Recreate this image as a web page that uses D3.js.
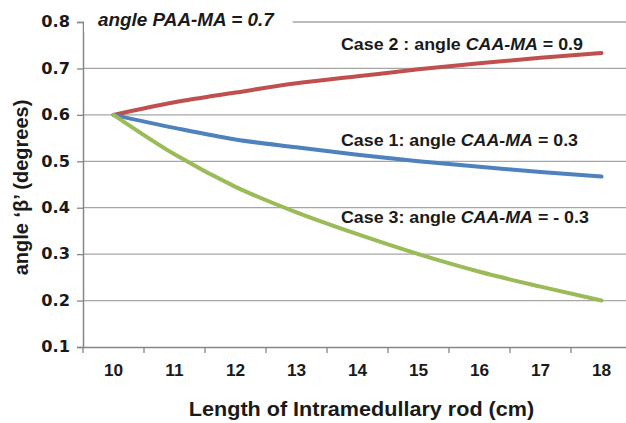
<!DOCTYPE html>
<html>
<head>
<meta charset="utf-8">
<script src="https://cdn.jsdelivr.net/npm/d3@7"></script>
<style>
  body { margin: 0; background: #fff; }
  svg { display: block; font-family: "Liberation Sans", Arial, sans-serif; }
</style>
</head>
<body>
<svg id="chart" width="626" height="423"></svg>
<script>
// Data
const lengths = ["10", "11", "12", "13", "14", "15", "16", "17", "18"];
const case1 = [0.600, 0.572, 0.547, 0.530, 0.514, 0.500, 0.488, 0.477, 0.467];
const case2 = [0.600, 0.627, 0.648, 0.668, 0.683, 0.698, 0.711, 0.723, 0.733];
const case3 = [0.600, 0.515, 0.445, 0.390, 0.343, 0.300, 0.262, 0.230, 0.200];
const yTicks = [0.1, 0.2, 0.3, 0.4, 0.5, 0.6, 0.7, 0.8];

const series = [
  { name: "case2", values: case2, color: "#C0504D" },
  { name: "case1", values: case1, color: "#4F81BD" },
  { name: "case3", values: case3, color: "#9BBB59" }
];

const svg = d3.select("#chart");
const mLeft = 83, mRight = 632, mTop = 22, mBottom = 347;
const wide = 1.08; // the original picture is a bit stretched sideways

// widen text horizontally while keeping its anchor point
function stretch(sel) {
  sel.each(function() {
    const t = d3.select(this);
    const xv = +t.attr("x") || 0;
    t.attr("x", xv / wide).attr("transform", `scale(${wide},1)`);
  });
}

const x = d3.scaleBand().domain(lengths).range([mLeft, mRight]);
const y = d3.scaleLinear().domain([0.1, 0.8]).range([mBottom, mTop]);

// gridlines
svg.append("g")
  .selectAll("line")
  .data(yTicks.filter(d => d > 0.1))
  .join("line")
  .attr("x1", mLeft).attr("x2", mRight)
  .attr("y1", d => y(d)).attr("y2", d => y(d))
  .attr("stroke", "#A6A6A6").attr("stroke-width", 1.3);

// y axis
const yAxis = svg.append("g")
  .attr("transform", `translate(${mLeft},0)`)
  .call(d3.axisLeft(y).tickValues(yTicks).tickFormat(d3.format(".1f")).tickSize(6).tickPadding(7));
yAxis.select(".domain").attr("stroke", "#868686").attr("stroke-width", 1.5);
yAxis.selectAll(".tick line").attr("stroke", "#868686").attr("stroke-width", 1.3);
yAxis.selectAll(".tick text")
  .attr("font-size", 15).attr("font-weight", "bold").attr("fill", "#1a1a1a")
  .attr("font-family", "DejaVu Sans, sans-serif")
  .call(stretch);

// x axis
const xAxis = svg.append("g")
  .attr("transform", `translate(0,${mBottom})`)
  .call(d3.axisBottom(x).tickSize(0).tickPadding(18));
xAxis.select(".domain").attr("stroke", "#868686").attr("stroke-width", 1.5);
xAxis.selectAll(".tick text")
  .attr("font-size", 16).attr("font-weight", "bold").attr("fill", "#1a1a1a")
  .attr("font-family", "Liberation Sans, Arial, sans-serif")
  .call(stretch);
xAxis.selectAll("line.sep")
  .data(lengths)
  .join("line")
  .attr("class", "sep")
  .attr("x1", d => x(d)).attr("x2", d => x(d))
  .attr("y1", 0).attr("y2", 6)
  .attr("stroke", "#868686").attr("stroke-width", 1.3);

// series lines
const line = d3.line()
  .x((d, i) => x(lengths[i]) + x.bandwidth() / 2)
  .y(d => y(d))
  .curve(d3.curveMonotoneX);

svg.append("g")
  .selectAll("path")
  .data(series)
  .join("path")
  .attr("d", d => line(d.values))
  .attr("fill", "none")
  .attr("stroke", d => d.color)
  .attr("stroke-width", 4)
  .attr("stroke-linecap", "round")
  .attr("stroke-linejoin", "round");

// annotations
function label(xp, yp, size, parts) {
  const t = svg.append("text")
    .attr("x", xp).attr("y", yp)
    .attr("font-size", size).attr("font-weight", "bold").attr("fill", "#1a1a1a");
  parts.forEach(p => {
    t.append("tspan").attr("font-style", p[1] ? "italic" : "normal").text(p[0]);
  });
  t.call(stretch);
  return t;
}

const top1 = label(98, 26, 17.5, [["angle PAA-MA = 0.7", true]]);
const bb = top1.node().getBoundingClientRect();
svg.insert("rect", () => top1.node())
  .attr("x", mLeft + 1).attr("y", bb.top - 2)
  .attr("width", bb.right + 18 - mLeft - 1).attr("height", bb.height + 4)
  .attr("fill", "#fff");

label(341, 50, 16.5, [["Case 2 : angle ", false], ["CAA-MA", true], [" = 0.9", false]]);
label(341, 146, 16.5, [["Case 1: angle ", false], ["CAA-MA", true], [" = 0.3", false]]);
label(341, 223, 16.5, [["Case 3: angle ", false], ["CAA-MA", true], [" = - 0.3", false]]);

// axis titles
svg.append("text")
  .attr("x", (mLeft + mRight) / 2 + 4).attr("y", 416)
  .attr("text-anchor", "middle")
  .attr("font-size", 20).attr("font-weight", "bold").attr("fill", "#1a1a1a")
  .text("Length of Intramedullary rod (cm)")
  .call(stretch);

svg.append("text")
  .attr("transform", `translate(28,187.5) rotate(-90)`)
  .attr("text-anchor", "middle")
  .attr("font-size", 20).attr("font-weight", "bold").attr("fill", "#1a1a1a")
  .text("angle \u2018\u03B2\u2019 (degrees)");
</script>
</body>
</html>
